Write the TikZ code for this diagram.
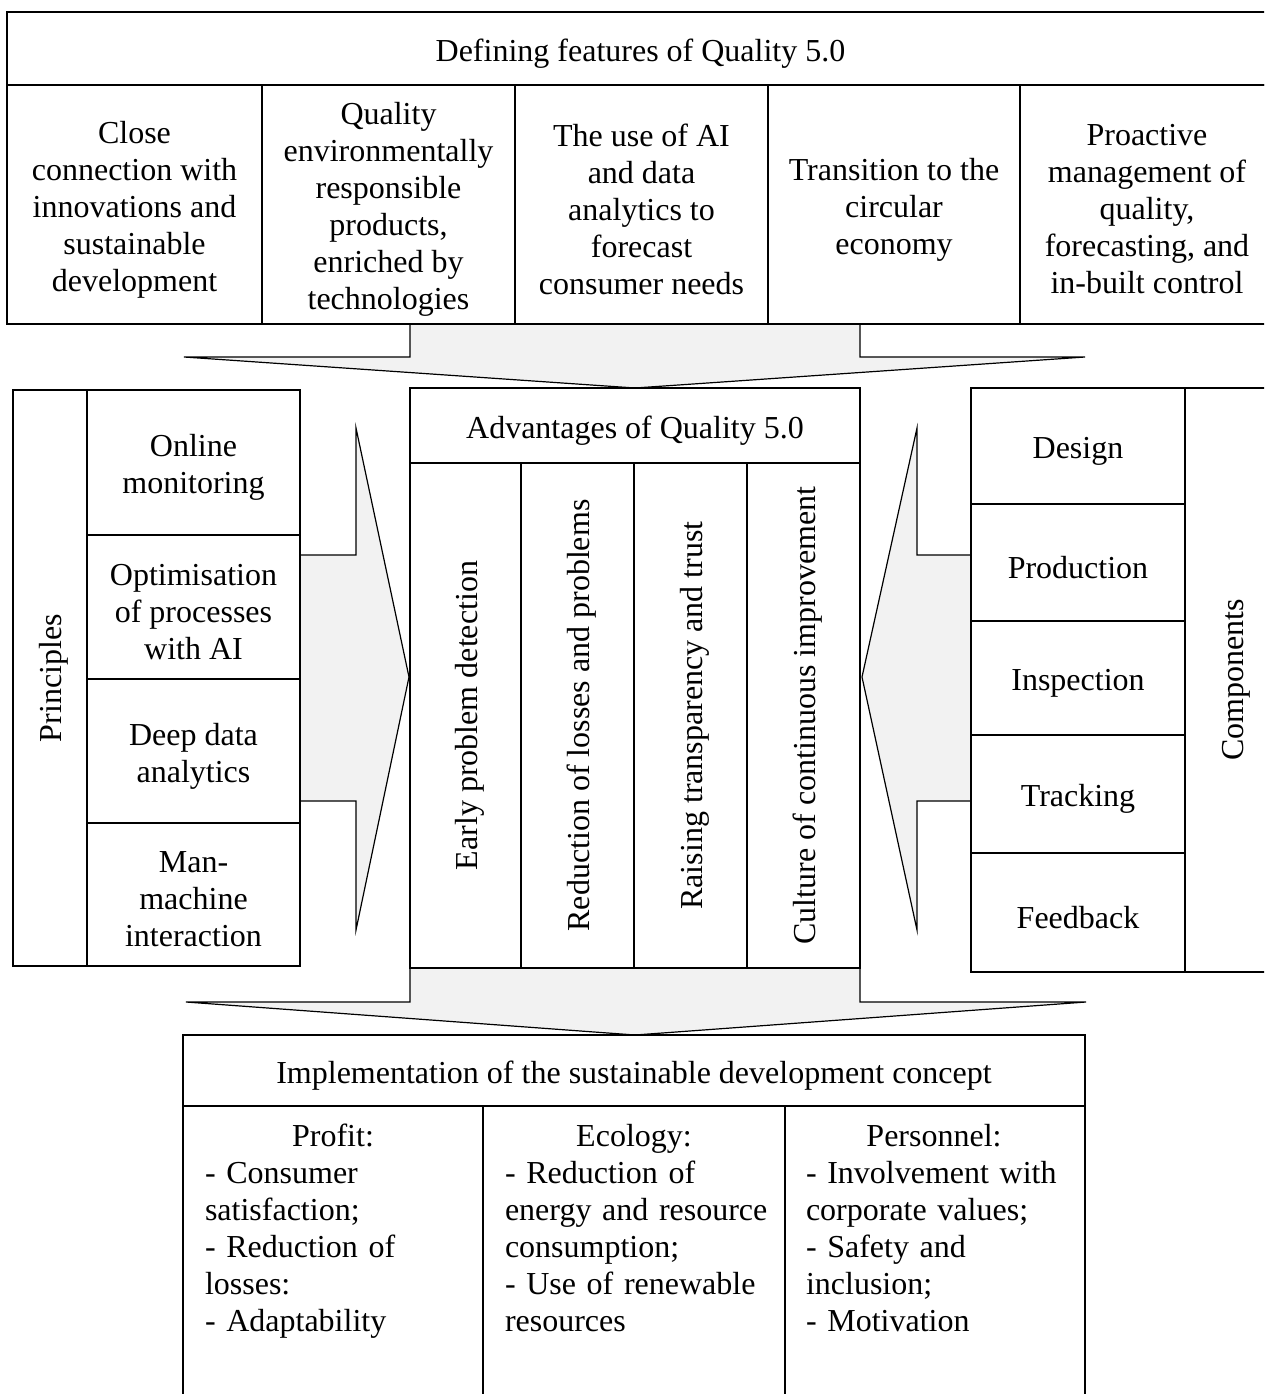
\documentclass[tikz,border=0pt]{standalone}
\usepackage{fontspec}
\setmainfont{Liberation Serif}
\definecolor{arrfill}{RGB}{242,242,242}
\newcommand\myfs{\fontsize{32}{37}\selectfont}
% name, x, y, width, height, text
\newcommand\hcell[6]{%
  \node[cell,minimum width=#4,minimum height=#5] (#1) at (#2,#3) {};
  \node[ctext] (#1-t) at ([yshift=-5pt]#1.center) {#6};}
\newcommand\vcellbox[6]{%
  \node[cell,rotate=90,minimum width=#4,minimum height=#5] (#1) at (#2,#3) {};
  \node[ctext,rotate=90] (#1-t) at ([xshift=4pt]#1.center) {#6};}
\begin{document}
\begin{tikzpicture}[x=1pt,y=-1pt,
  cell/.style={draw,line width=1.6pt,inner sep=0pt,outer sep=0pt},
  ctext/.style={inner sep=0pt,outer sep=0pt,align=center,font=\myfs},
  blockarrow/.style={fill=arrfill,draw,line width=1.2pt,line join=miter},
  listtxt/.style={inner sep=0pt,outer sep=0pt,font=\myfs,align=left,text width=290pt,anchor=north west}]
\path[use as bounding box,clip] (0,0) rectangle (1264,1394);
\fill[white] (0,0) rectangle (1264,1394);

% block arrows
\draw[blockarrow] (410,324) -- (410,357) -- (184,357) -- (635,388) -- (1085,357) -- (860,357) -- (860,324) -- cycle;
\draw[blockarrow] (300,555) -- (356,555) -- (356,428) -- (409,677) -- (356,930) -- (356,801) -- (300,801) -- cycle;
\draw[blockarrow] (971,555) -- (917,555) -- (917,428) -- (862,677) -- (917,930) -- (917,801) -- (971,801) -- cycle;
\draw[blockarrow] (410,968) -- (410,1002) -- (186,1002) -- (635,1035) -- (1086,1002) -- (860,1002) -- (860,968) -- cycle;

% top block
\hcell{title}{640.5}{48.5}{1267}{73}{Defining features of Quality 5.0}
\hcell{f1}{134.5}{204.5}{255}{239}{Close\\connection with\\innovations and\\sustainable\\development}
\hcell{f2}{388.5}{204.5}{253}{239}{Quality\\environmentally\\responsible\\products,\\enriched by\\technologies}
\hcell{f3}{641.5}{204.5}{253}{239}{The use of AI\\and data\\analytics to\\forecast\\consumer needs}
\hcell{f4}{894}{204.5}{252}{239}{Transition to the\\circular\\economy}
\hcell{f5}{1147}{204.5}{254}{239}{Proactive\\management of\\quality,\\forecasting, and\\in-built control}

% advantages
\hcell{advT}{635}{425.5}{450}{75}{Advantages of Quality 5.0}
\vcellbox{a1}{465.5}{715.5}{505}{111}{Early problem detection}
\vcellbox{a2}{577.5}{715.5}{505}{113}{Reduction of losses and problems}
\vcellbox{a3}{690.5}{715.5}{505}{113}{Raising transparency and trust}
\vcellbox{a4}{803.5}{715.5}{505}{113}{Culture of continuous improvement}

% principles
\vcellbox{prin}{50}{678}{576}{74}{Principles}
\hcell{p1}{193.5}{462.5}{213}{145}{Online\\monitoring}
\hcell{p2}{193.5}{607}{213}{144}{Optimisation\\of processes\\with AI}
\hcell{p3}{193.5}{751}{213}{144}{Deep data\\analytics}
\hcell{p4}{193.5}{894.5}{213}{143}{Man-\\machine\\interaction}

% components
\hcell{c1}{1078}{446}{214}{116}{Design}
\hcell{c2}{1078}{562.5}{214}{117}{Production}
\hcell{c3}{1078}{678}{214}{114}{Inspection}
\hcell{c4}{1078}{794}{214}{118}{Tracking}
\hcell{c5}{1078}{912.5}{214}{119}{Feedback}
\vcellbox{comp}{1232}{680}{584}{94}{Components}

% implementation
\hcell{impl}{634}{1070.5}{902}{71}{Implementation of the sustainable development concept}
\node[cell,minimum width=300,minimum height=314] (b1) at (333,1263) {};
\node[cell,minimum width=302,minimum height=314] (b2) at (634,1263) {};
\node[cell,minimum width=300,minimum height=314] (b3) at (935,1263) {};
\node[listtxt] (t1) at (205,1124) {\makebox[256pt]{Profit:}\\- Consumer\\satisfaction;\\- Reduction of\\losses:\\- Adaptability};
\node[listtxt] (t2) at (505,1124) {\makebox[258pt]{Ecology:}\\- Reduction of\\energy and resource\\consumption;\\- Use of renewable\\resources};
\node[listtxt] (t3) at (806,1124) {\makebox[256pt]{Personnel:}\\- Involvement with\\corporate values;\\- Safety and\\inclusion;\\- Motivation};
\end{tikzpicture}
\end{document}
